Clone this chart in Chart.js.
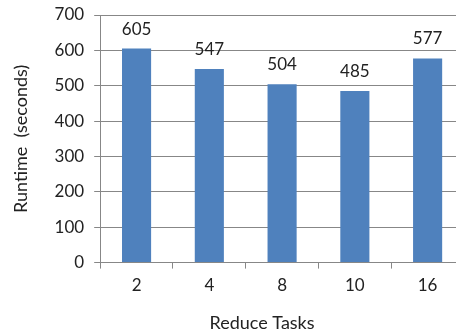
<!DOCTYPE html>
<html>
<head>
  <meta charset="UTF-8">
  <title>Runtime vs Reduce Tasks</title>
  <script src="https://cdn.jsdelivr.net/npm/chart.js"></script>
  <style>
    html, body {
      margin: 0;
      padding: 0;
      background: #fff;
      overflow: hidden;
    }
    #wrap {
      width: 466px;
      height: 336px;
    }
  </style>
</head>
<body>
  <div id="wrap"><canvas id="barChart" width="466" height="336"></canvas></div>

  <script>
    const tasks = ['2', '4', '8', '10', '16'];
    const runtimes = [605, 547, 504, 485, 577];
    const yTicks = [0, 100, 200, 300, 400, 500, 600, 700];

    const fontFamily = 'Lato, "Open Sans", sans-serif';
    const axisGray = '#878787';

    // value labels above each bar
    const barValues = {
      id: 'barValues',
      afterDatasetsDraw(chart) {
        const ctx = chart.ctx;
        const meta = chart.getDatasetMeta(0);
        ctx.save();
        ctx.font = '17px ' + fontFamily;
        ctx.fillStyle = '#222';
        ctx.textAlign = 'center';
        ctx.textBaseline = 'bottom';
        meta.data.forEach((bar, i) => {
          ctx.fillText(runtimes[i], bar.x, bar.y - 11);
        });
        ctx.restore();
      }
    };

    // x axis title, centred on the visible part of the plot
    const xTitle = {
      id: 'xTitle',
      afterDraw(chart) {
        const ctx = chart.ctx;
        ctx.save();
        ctx.font = '18px ' + fontFamily;
        ctx.fillStyle = '#222';
        ctx.textAlign = 'center';
        ctx.textBaseline = 'middle';
        ctx.fillText('Reduce Tasks', 262, 323);
        ctx.restore();
      }
    };

    const ctx = document.getElementById('barChart').getContext('2d');

    new Chart(ctx, {
      type: 'bar',
      data: {
        labels: tasks,
        datasets: [{
          label: 'Runtime',
          data: runtimes,
          backgroundColor: '#4F81BD',
          barPercentage: 0.4,
          categoryPercentage: 1.0
        }]
      },
      options: {
        responsive: false,
        animation: false,
        layout: {
          padding: { top: 15, right: 2, bottom: 33, left: 10 }
        },
        plugins: {
          legend: { display: false },
          tooltip: { enabled: false }
        },
        scales: {
          x: {
            grid: {
              drawOnChartArea: false,
              drawTicks: true,
              tickLength: 6,
              color: axisGray
            },
            border: { color: axisGray },
            ticks: {
              color: '#222',
              font: { family: fontFamily, size: 17 },
              padding: 7
            }
          },
          y: {
            min: 0,
            max: 700,
            afterBuildTicks(scale) {
              scale.ticks = yTicks.map(v => ({ value: v }));
            },
            afterFit(scale) {
              scale.paddingTop = 0;
              scale.paddingBottom = 0;
            },
            grid: {
              color: axisGray,
              tickLength: 6
            },
            border: { color: axisGray },
            ticks: {
              color: '#222',
              font: { family: fontFamily, size: 17 },
              padding: 10
            },
            title: {
              display: true,
              text: 'Runtime  (seconds)',
              color: '#222',
              font: { family: fontFamily, size: 18 },
              padding: { top: 0, bottom: 13 }
            }
          }
        }
      },
      plugins: [barValues, xTitle]
    });
  </script>
</body>
</html>
